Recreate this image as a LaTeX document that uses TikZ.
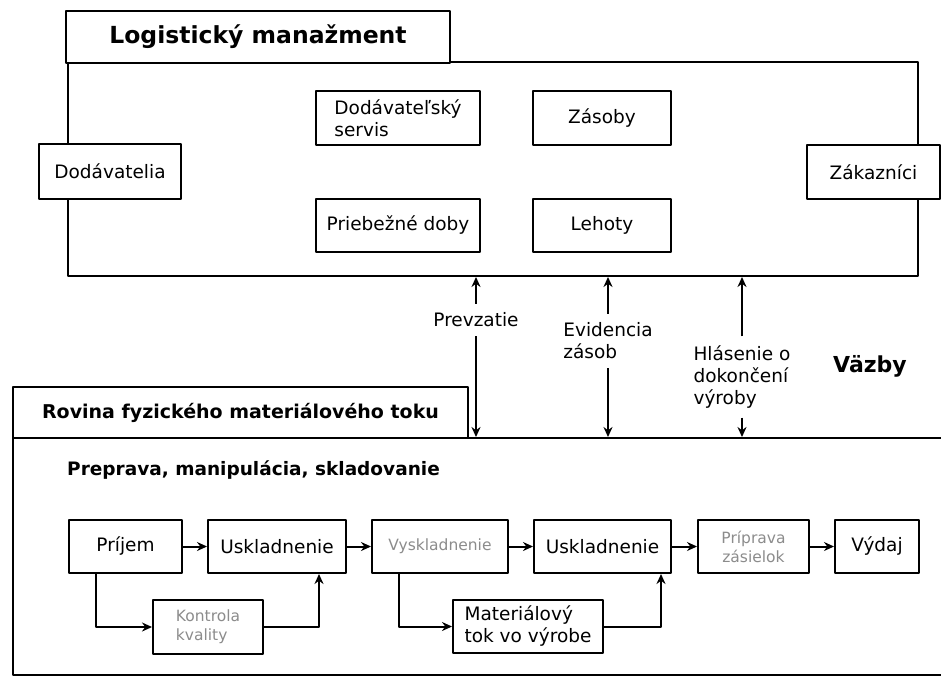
\documentclass[tikz,border=0pt]{standalone}
\usepackage{fontspec}
\setmainfont{DejaVu Sans}
\usepackage{xcolor}
\usetikzlibrary{arrows.meta}
\definecolor{fadedgray}{HTML}{8C8C8C}
\tikzset{
    box/.style={
        draw, line width=2pt, fill=white, inner sep=0pt, align=center,
        font=\fontsize{18.5}{22}\selectfont
    },
    faded/.style={
        text=fadedgray, font=\fontsize{15.5}{19}\selectfont
    },
    lab/.style={
        inner ysep=9pt, inner xsep=5pt, align=left, font=\fontsize{18.5}{22}\selectfont
    },
    flow/.style={
        line width=2pt, -{Stealth[length=10pt,width=9pt]}
    }
}

\begin{document}
\begin{tikzpicture}[x=1pt,y=-1pt,line join=round]
\useasboundingbox (0,0) rectangle (941,677);

% logistics management level
\node[box, minimum width=850pt, minimum height=214pt] (lmframe) at (493,169) {};
\node[box, minimum width=384pt, minimum height=52pt,
      font=\bfseries\fontsize{23.5}{28}\selectfont] (lmtab) at (258,37) {Logistický manažment};

\node[box, minimum width=164pt, minimum height=54pt, align=left] (dserv) at (398,118) {Dodávateľský\\servis};
\node[box, minimum width=138pt, minimum height=54pt] (zasoby) at (602,118) {Zásoby};
\node[box, minimum width=142pt, minimum height=55pt] (dodav) at (110,171.5) {Dodávatelia};
\node[box, minimum width=164pt, minimum height=53pt] (prieb) at (398,225.5) {Priebežné doby};
\node[box, minimum width=138pt, minimum height=53pt] (lehoty) at (602,225.5) {Lehoty};
\node[box, minimum width=133pt, minimum height=54pt] (zakaz) at (873.5,172) {Zákazníci};

% physical material flow level
\node[box, minimum width=947pt, minimum height=237pt] (rovframe) at (486.5,556.5) {};
\node[box, minimum width=455pt, minimum height=51pt,
      font=\bfseries\fontsize{19}{23}\selectfont] (rovtab) at (240.5,412.5) {Rovina fyzického materiálového toku};
\node[anchor=base west, inner sep=0pt, font=\bfseries\fontsize{18.5}{22}\selectfont] (preprava) at (67,475) {Preprava, manipulácia, skladovanie};

% links between the two levels
\node[lab] (prevz) at (476,320) {Prevzatie};
\node[lab] (evid) at (608,341) {Evidencia\\zásob};
\node[lab] (hlas) at (742,377) {Hlásenie o\\dokončení\\výroby};
\node[anchor=base west, inner sep=0pt, font=\bfseries\fontsize{22}{26}\selectfont] (vazby) at (833,372) {Väzby};

\foreach \l in {prevz,evid,hlas} {
  \draw[flow] (\l.north) -- (\l.north |- lmframe.south);
  \draw[flow] (\l.south) -- (\l.south |- rovframe.north);
}

% material flow chain
\node[box, minimum width=113pt, minimum height=53pt] (prijem) at (125.5,546.5) {Príjem};
\node[box, minimum width=138pt, minimum height=53pt] (uskl1) at (277,546.5) {Uskladnenie};
\node[box, faded, minimum width=136pt, minimum height=53pt] (vyskl) at (440,546.5) {Vyskladnenie};
\node[box, minimum width=137pt, minimum height=53pt] (uskl2) at (602.5,546.5) {Uskladnenie};
\node[box, faded, minimum width=111pt, minimum height=53pt] (pripr) at (753.5,546.5) {Príprava\\zásielok};
\node[box, minimum width=84pt, minimum height=53pt] (vydaj) at (877,546.5) {Výdaj};
\node[box, faded, minimum width=110pt, minimum height=54pt, align=left] (kontr) at (208,627) {Kontrola\\kvality};
\node[box, minimum width=150pt, minimum height=53pt, align=left] (matok) at (528,626.5) {Materiálový\\tok vo výrobe};

\draw[flow] (prijem) -- (uskl1);
\draw[flow] (uskl1) -- (vyskl);
\draw[flow] (vyskl) -- (uskl2);
\draw[flow] (uskl2) -- (pripr);
\draw[flow] (pripr) -- (vydaj);

% side loops
\draw[flow] ([xshift=28pt]prijem.south west) |- (kontr.west);
\draw[flow] (kontr.east) -| ([xshift=-28pt]uskl1.south east);
\draw[flow] ([xshift=28pt]vyskl.south west) |- (matok.west);
\draw[flow] (matok.east) -| ([xshift=-11pt]uskl2.south east);

\end{tikzpicture}
\end{document}
